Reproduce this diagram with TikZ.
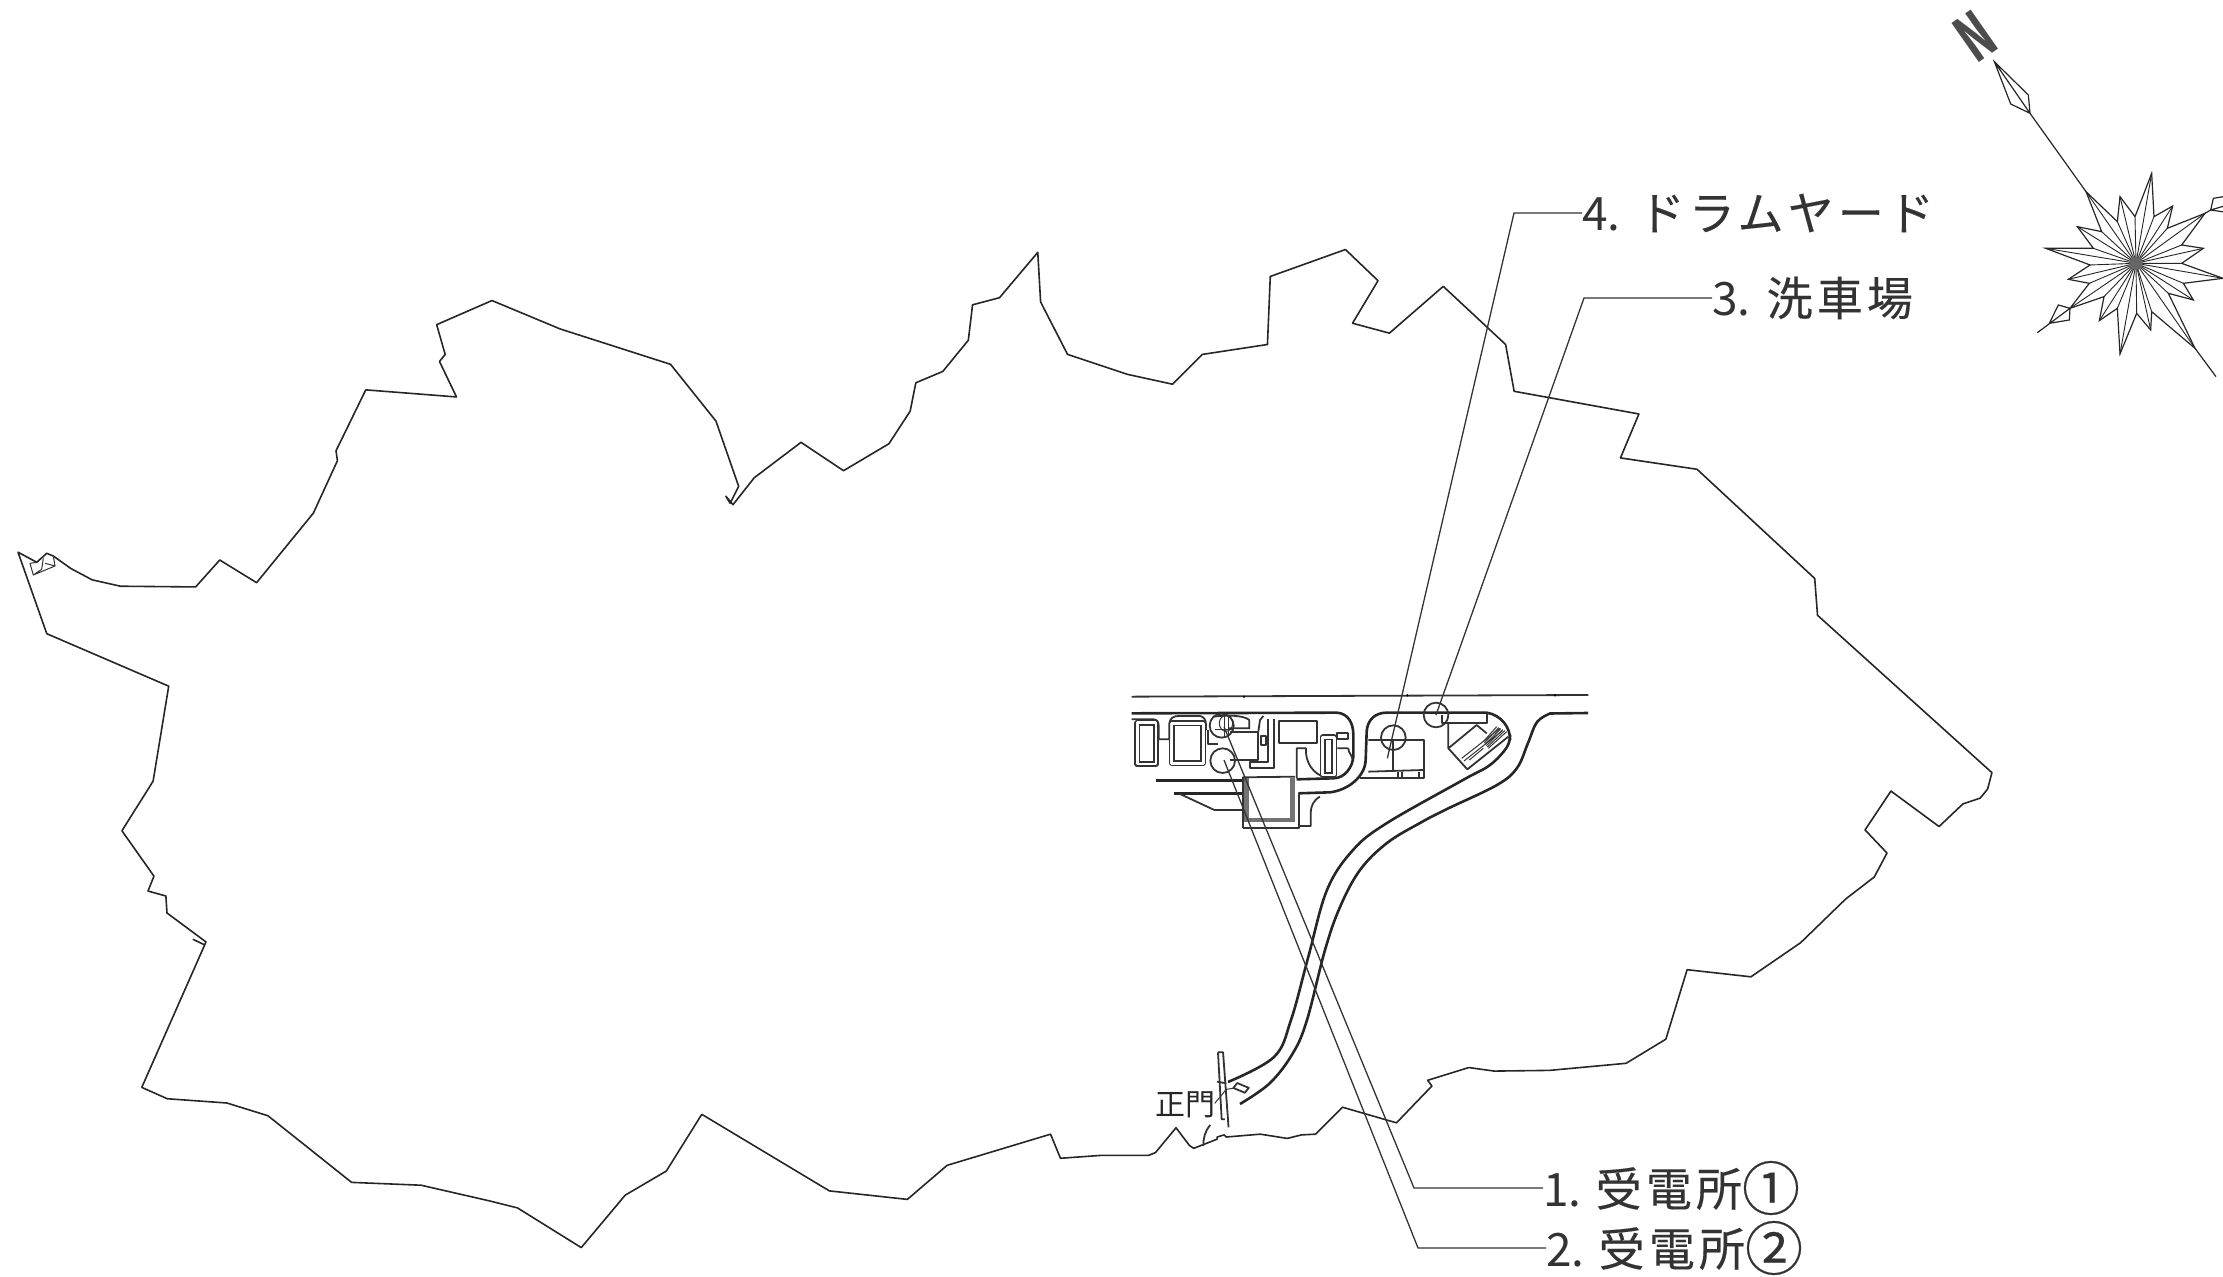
\documentclass[tikz,border=0pt]{standalone}
\usepackage{fontspec}
\newfontfamily\cjk{Noto Sans CJK JP}
\newfontfamily\cjkw[LetterSpace=9,FakeBold=0.3]{Noto Sans CJK JP}
\newcommand{\bignum}[1]{\raisebox{-2pt}{\fontsize{29pt}{29pt}\selectfont #1}}
\tikzset{
 outline/.style={line width=0.8pt,line join=round,black!85},
 leaderline/.style={line width=0.65pt,black!80},
 road/.style={line width=1.3pt,black!85,line join=round},
 plan/.style={line width=0.9pt,black!80,line join=round},
 planthin/.style={line width=0.5pt,black!80},
 hatchline/.style={line width=2.2pt,black!55},
 star/.style={line width=0.6pt,black!85,line join=miter},
 lab/.style={font=\cjkw\fontsize{23pt}{23pt}\selectfont,anchor=west,inner sep=0pt,text=black!80},
}
\begin{document}
\begin{tikzpicture}[x=0.5pt,y=-0.5pt]
\useasboundingbox (0,0) rectangle (2223,1277);
\clip (0,0) rectangle (2223,1277);
% site boundary
\begin{scope}[scale=1.41773]
\draw[outline] (12.7,389.5) -- (25.9,396.6) -- (33,390.3) -- (37.6,392.2) -- (50,401) -- (65,409) -- (85,413.5) -- (138,414) -- (155,395) -- (181,411) -- (221,362) -- (238,325) -- (237,318) -- (258,275) -- (322,280) -- (310,255) -- (314,250) -- (308,229) -- (347,212) -- (395,232) -- (473,257) -- (505,297) -- (521,343) -- (515,355) -- (512,350) -- (517,356) -- (532,337) -- (565,312) -- (595,332) -- (627,313) -- (642,290) -- (646,270) -- (665,262) -- (683,240) -- (686,215) -- (705,210) -- (732,178) -- (734,213) -- (753,250) -- (795,264) -- (827,271) -- (848,250) -- (894,243) -- (896,195) -- (949,176) -- (972,198) -- (954,228) -- (980,235) -- (1018,202) -- (1062,243) -- (1068,276) -- (1156,292) -- (1143,323) -- (1197,331) -- (1280,408) -- (1282,434) -- (1405,545) -- (1402,556.5) -- (1396.7,563) -- (1384.6,567) -- (1367.7,583) -- (1333.8,558) -- (1315.5,585.4) -- (1331,601.7) -- (1322,618.6) -- (1302,634) -- (1270,665) -- (1235,689) -- (1190,684) -- (1179,720) -- (1175,733) -- (1147,750) -- (1093,755) -- (1054,755.5) -- (1036,753) -- (1007,762) -- (1010,766) -- (985,792) -- (947,781) -- (928,800) -- (918,800.5) -- (908,803) -- (889,800) -- (865,802) -- (863.5,800.5) -- (858.5,802) -- (858.5,803.5) -- (842,810) -- (839,808) -- (829.5,795.5) -- (815,813) -- (810,815) -- (776,815) -- (748,817) -- (741,800) -- (668,822) -- (640,846) -- (585,840) -- (495,786) -- (470,826) -- (441,843) -- (410,880) -- (365,852) -- (345,847) -- (297,836) -- (248,834) -- (189,787) -- (160,778) -- (118,775) -- (100,767) -- (145.3,664.4) -- (117.8,644) -- (117,632) -- (104.4,628.5) -- (108.6,618) -- (86,586) -- (108,551) -- (119,484) -- (33,447) -- cycle;
\draw[outline] (136,662.5) -- (144.6,666.6);
\end{scope}
% small mark at the far west corner
\begin{scope}[shift={(0,530)},scale=0.33333]
\draw[planthin] (90,100) -- (110,97) (90,100) -- (100,135) -- (165,108) -- (160,78) (125,118) -- (130,85) (100,135) -- (125,118) (135,100) -- (165,108);
\end{scope}
% roads
\draw[road] plot[smooth,tension=0.6] coordinates {(1228,1082) (1274,1057) (1291,1020) (1308,958) (1327,890) (1353,850) (1387,823) (1463,780) (1490,765) (1507,747) (1510,735)};
\draw[road] plot[smooth,tension=0.6] coordinates {(1240,1104) (1270,1083) (1293,1053) (1307,1020) (1325,950) (1340,907) (1360,870) (1387,843) (1420,823) (1447,809) (1497,785) (1517,768) (1528,743) (1537,722) (1550,713.5)} -- (1588,713);
\begin{scope}[shift={(1100,660)},scale=0.33333]
% top road
\draw[plan] (95,110) -- (1465,105);
\fill (432,110) circle (4) (922,106) circle (4) (1365,106) circle (4);
% west block
\draw[road] (95,160) -- (710,158) .. controls (745,160) and (760,190) .. (760,225) -- (760,290) .. controls (758,320) and (735,355) .. (700,355) -- (590,358);
\draw[road] (168,362) -- (435,362);
\draw[road] (222,400) -- (430,400);
\draw[plan] (240,402) -- (343,450) -- (430,450);
\draw[road] (595,400) -- (690,397) .. controls (745,390) and (795,350) .. (797,300) -- (800,215) .. controls (802,180) and (825,158) .. (860,158) -- (1160,158) .. controls (1205,165) and (1232,205) .. (1230,240);
\draw[plan] (660,410) .. controls (640,420) and (632,440) .. (632,460) -- (632,498) -- (598,498);
\draw[plan] (590,355) -- (590,265) -- (618,265) -- (618,280) .. controls (622,320) and (650,355) .. (700,355);
\draw[plan] (745,265) -- (712,265) (745,265) .. controls (745,280) and (757,285) .. (758,300);
\draw[plan] (537,183) rectangle (650,248);
\draw[plan,double,double distance=1.2pt] (668,232) rectangle (703,345);
\draw[plan] (712,218) rectangle (745,237);
\draw[plan,double,double distance=1.2pt] (112,188) rectangle (168,312);
\draw[plan,double,double distance=1.2pt] (215,190) rectangle (310,310);
\draw[plan] (95,178) -- (160,178) .. controls (172,178) and (176,188) .. (176,198) -- (176,238) -- (208,238) -- (208,190) .. controls (210,175) and (220,168) .. (235,168) -- (300,168) .. controls (312,170) and (318,180) .. (318,195) -- (318,210);
% transformer yard
\draw[plan] (323,210) -- (323,252) -- (355,252);
\draw[plan] (390,215) -- (475,215) -- (475,300) -- (390,300);
\draw[plan] (385,205) -- (450,205) (448,180) -- (448,205) (340,170) .. controls (380,165) and (430,165) .. (448,180);
\draw[plan] (475,215) -- (480,180) -- (490,168);
\draw[plan] (505,178) -- (505,305) -- (450,305) -- (450,325) -- (523,325) -- (523,178);
\draw[plan] (484,228) rectangle (497,255);
\draw[planthin] (372,165) -- (372,235) (384,165) -- (384,235) (345,210) -- (400,210);
\draw[planthin] (378,190) ellipse (20 and 24);
% large building
\draw[plan] (430,505) -- (598,505) -- (598,400);
\draw[plan] (428,352) -- (428,505);
\draw[plan] (428,352) -- (585,350);
\draw[hatchline] (440,355) -- (440,480) -- (578,480) -- (578,355);
% east block
\draw[plan] (805,240) -- (972,240) -- (972,330) -- (805,335);
\draw[plan] (878,240) -- (878,332);
\draw[plan] (780,355) -- (972,355) -- (972,330);
\draw[plan] (895,335) -- (895,355) (905,335) -- (905,355) (958,335) -- (958,355);
% car wash yard
\draw[plan] (1025,165) -- (1025,188) -- (1160,188) -- (1160,160);
\draw[plan] (1045,188) -- (1045,265) -- (1130,195) -- (1160,220);
\draw[plan] (1045,265) -- (1102,328) -- (1225,230);
\draw[planthin] (1085,295) -- (1200,205) (1092,303) -- (1207,212) (1108,300) -- (1150,265);
\foreach \i in {0,...,5}{\draw[planthin] ({1150+\i*3},{245+\i*4}) -- ({1190+\i*6},{200+\i*3});}
% target circles
\coordinate (e1) at (372,200);
\coordinate (e2) at (372,300);
\coordinate (e3) at (1008,165);
\coordinate (e4) at (862,295);
\draw[plan] (365,197) circle (36);
\draw[plan] (368,302) circle (37);
\draw[plan] (880,233) circle (37);
\draw[plan] (1008,165) circle (37);
\end{scope}
% main gate
\begin{scope}[shift={(1100,1020)},xscale=0.45914,yscale=0.33333]
\draw[plan] (257,97) -- (268,97) -- (280,322) (257,97) -- (265,298) -- (272,298);
\draw[plan] (255,185) -- (275,190);
\draw[planthin] (250,250) -- (275,208) -- (290,205);
\draw[plan,rotate around={-30:(307,203)}] (293,195) rectangle (322,212);
\draw[plan] (240,315) .. controls (228,335) and (225,355) .. (225,378);
\end{scope}
% compass
\begin{scope}[shift={(1880,0)},scale=0.33333]
\coordinate (cc) at (768,790);
\draw[star] (618,575) -- (712,665) -- (720,590) -- (765,650) -- (815,520) -- (822,650) -- (878,618) -- (862,685) -- (975,640) -- (905,735) -- (970,745) -- (905,790) -- (1029,835) -- (910,850) -- (940,900) -- (865,880) -- (945,1045) -- (815,935) -- (812,990) -- (770,940) -- (720,1062) -- (712,925) -- (658,962) -- (672,890) -- (570,925) -- (628,850) -- (565,838) -- (630,795) -- (497,745) -- (640,745) -- (592,680) -- (665,695) -- cycle;
\foreach \p in {(618,575),(712,665),(720,590),(765,650),(815,520),(822,650),(878,618),(862,685),(975,640),(905,735),(970,745),(905,790),(1029,835),(910,850),(940,900),(865,880),(945,1045),(815,935),(812,990),(770,940),(720,1062),(712,925),(658,962),(672,890),(570,925),(628,850),(565,838),(630,795),(497,745),(640,745),(592,680),(665,695)}{\draw[star,line width=0.45pt] \p -- (cc);}
\fill[black!60] (cc) circle (20);
\draw[star] (343,185) -- (445,285) -- (450,340) -- (392,312) -- cycle (343,185) -- (450,340) -- (618,575);
\draw[star] (570,925) -- (535,915) -- (508,970) -- (568,960) -- cycle (472,998) -- (570,925);
\draw[star] (975,640) -- (992,630) -- (1000,595) -- (1060,585) (992,630) -- (1060,640) (992,630) -- (1060,610);
\draw[star] (945,1045) -- (1008,1130);
\node[rotate=35,xscale=0.62,inner sep=0pt,text=black!70,font=\cjk\bfseries\fontsize{32pt}{32pt}\selectfont] (north) at (287,110) {N};
\end{scope}
% labels and leaders
\node[lab] (l4) at (1582,213) {{\cjk 4.}\hspace{9pt}ドラムヤード};
\node[lab] (l3) at (1712,298) {{\cjk 3.}\hspace{8pt}洗車場};
\node[lab] (l1) at (1543,1188) {{\cjk 1.}\hspace{7pt}受電所\bignum{①}};
\node[lab] (l2) at (1546,1248) {{\cjk 2.}\hspace{7pt}受電所\bignum{②}};
\node[inner sep=0pt,text=black!85,font=\cjk\fontsize{15pt}{15pt}\selectfont] (gate) at (1185,1105) {正門};
\coordinate (c4) at (1514,213);
\coordinate (c3) at (1584,298);
\coordinate (c1) at (1414,1188);
\coordinate (c2) at (1418,1248);
\draw[leaderline] (l4.west) -- (c4) -- (e4);
\draw[leaderline] (l3.west) -- (c3) -- (e3);
\draw[leaderline] (l1.west) -- (c1) -- (e1);
\draw[leaderline] (l2.west) -- (c2) -- (e2);
\end{tikzpicture}
\end{document}
